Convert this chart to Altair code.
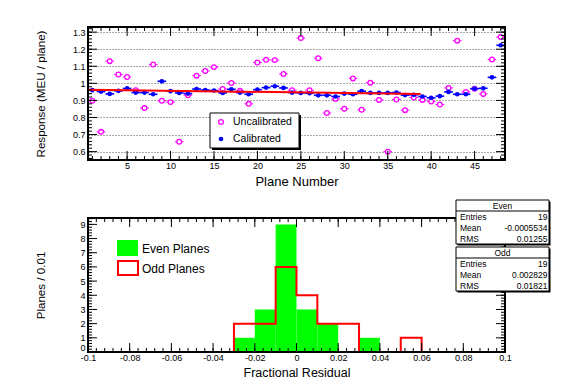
import altair as alt
import pandas as pd

# ---------------- data ----------------
planes = list(range(1, 49))
uncalibrated = [0.898, 0.716, 1.130, 1.052, 1.037, 0.960, 0.855, 1.110, 0.898, 0.890, 0.658, 0.930,
                1.045, 1.072, 1.095, 0.967, 1.002, 0.956, 0.880, 1.122, 1.138, 1.136, 1.055, 0.960,
                1.265, 0.960, 1.147, 0.826, 0.909, 0.851, 1.029, 0.845, 1.004, 0.903, 0.600, 0.905,
                0.843, 0.917, 0.903, 0.894, 0.876, 0.973, 1.250, 0.950, 0.968, 0.938, 1.140, 1.271]
calibrated = [0.960, 0.952, 0.938, 0.956, 0.970, 0.946, 0.946, 0.936, 1.012, 0.954, 0.944, 0.940,
              0.967, 0.961, 0.958, 0.944, 0.965, 0.946, 0.936, 0.963, 0.975, 0.983, 0.973, 0.946,
              0.944, 0.942, 0.930, 0.930, 0.923, 0.940, 0.936, 0.954, 0.944, 0.944, 0.944, 0.946,
              0.931, 0.933, 0.923, 0.915, 0.925, 0.950, 0.936, 0.936, 0.969, 0.971, 1.035, 1.223]
fit_planes = [0.5, 38.8]
fit_response = [0.962, 0.938]

bin_edges = [-0.10, -0.09, -0.08, -0.07, -0.06, -0.05, -0.04, -0.03, -0.02, -0.01, 0.00,
             0.01, 0.02, 0.03, 0.04, 0.05, 0.06, 0.07, 0.08, 0.09, 0.10]
even_counts = [0, 0, 0, 0, 0, 0, 0, 1, 3, 9, 3, 2, 0, 1, 0, 0, 0, 0, 0, 0]
odd_counts = [0, 0, 0, 0, 0, 0, 0, 2, 2, 6, 4, 2, 2, 0, 0, 1, 0, 0, 0, 0]

top_y_ticks = [0.6, 0.7, 0.8, 0.9, 1.0, 1.1, 1.2, 1.3]
top_x_ticks = [5, 10, 15, 20, 25, 30, 35, 40, 45]
bot_x_ticks = [-0.1, -0.08, -0.06, -0.04, -0.02, 0, 0.02, 0.04, 0.06, 0.08, 0.1]
bot_y_ticks = [0, 1, 2, 3, 4, 5, 6, 7, 8, 9]

top_y_minor = [round(0.56 + 0.02 * i, 2) for i in range(39)]
top_x_minor = planes
bot_x_minor = [round(-0.1 + 0.004 * i, 3) for i in range(51)]
bot_y_minor = [round(0.2 * i, 1) for i in range(48)]

even_stats = [("Entries", "19"), ("Mean", "-0.0005534"), ("RMS", "0.01255")]
odd_stats = [("Entries", "19"), ("Mean", "0.002829"), ("RMS", "0.01821")]

# ---------------- layout ----------------
W, H1, H2 = 417, 133, 134
FONT = "Liberation Sans"
ONE = pd.DataFrame({"k": [0]})
MAG, BLUE, RED, GREEN = "#ff00ff", "#0000ff", "#ff0000", "#00ff00"


def rect(x0, x1, y0, y1, **kw):
    return alt.Chart(ONE).mark_rect(**kw).encode(
        x=alt.value(x0), x2=alt.value(x1), y=alt.value(y0), y2=alt.value(y1))


def text(x, y, s, **kw):
    return alt.Chart(ONE).mark_text(baseline="middle", color="black", **kw).encode(
        x=alt.value(x), y=alt.value(y), text=alt.value(s))


def tick_layers(xs, ys, xax, yax, xmaj, xmin, ymaj, ymin, H, lmaj=9, lmin=5):
    out = []
    for vals, L in ((ymaj, lmaj), (ymin, lmin)):
        d = pd.DataFrame({"v": vals})
        y = alt.Y("v:Q", scale=ys, axis=yax)
        out.append(alt.Chart(d).mark_rule(color="black", strokeWidth=1).encode(
            y=y, x=alt.value(0), x2=alt.value(L)))
        out.append(alt.Chart(d).mark_rule(color="black", strokeWidth=1).encode(
            y=y, x=alt.value(W - L), x2=alt.value(W)))
    for vals, L in ((xmaj, lmaj), (xmin, lmin)):
        d = pd.DataFrame({"v": vals})
        x = alt.X("v:Q", scale=xs, axis=xax)
        out.append(alt.Chart(d).mark_rule(color="black", strokeWidth=1).encode(
            x=x, y=alt.value(H - L), y2=alt.value(H)))
        out.append(alt.Chart(d).mark_rule(color="black", strokeWidth=1).encode(
            x=x, y=alt.value(0), y2=alt.value(L)))
    return out


# ---------------- top panel ----------------
xs_top = alt.Scale(domain=[0.5, 48.5], nice=False, zero=False)
ys_top = alt.Scale(domain=[0.551, 1.33], nice=False, zero=False)

top_yaxis = alt.Axis(values=top_y_ticks, labelExpr="toString(round(datum.value*10)/10)",
                     grid=True, gridDash=[1, 2], gridColor="#555555", gridWidth=1,
                     ticks=False, domain=False, labelFontSize=9, labelPadding=3,
                     labelFlush=False, labelOverlap=False,
                     title="Response (MEU / plane)", titleFontSize=11.6, titleFontWeight="normal",
                     titleX=-47, titleY=H1 / 2, titleBaseline="middle", titleAlign="center")
top_xaxis = alt.Axis(values=top_x_ticks, grid=False, ticks=False, domain=False,
                     labelFontSize=9, labelPadding=1, labelFlush=False, labelOverlap=False,
                     title="Plane Number", titleFontSize=13, titleFontWeight="normal",
                     titleY=21, titleBaseline="middle")

df_pts = pd.DataFrame({"plane": planes, "uncal": uncalibrated, "cal": calibrated})
pts = alt.Chart(df_pts).transform_calculate(lo="datum.plane - 0.5", hi="datum.plane + 0.5")


def TX(f):
    return alt.X(f, scale=xs_top, axis=top_xaxis)


def TY(f):
    return alt.Y(f, scale=ys_top, axis=top_yaxis)


unc_bar = pts.mark_rule(color=MAG, strokeWidth=1).encode(x=TX("lo:Q"), x2="hi:Q", y=TY("uncal:Q"))
unc_pt = pts.mark_circle(size=22, fill="white", stroke=MAG, strokeWidth=1.3, opacity=1).encode(
    x=TX("plane:Q"), y=TY("uncal:Q"))
cal_bar = pts.mark_rule(color=BLUE, strokeWidth=1.6).encode(x=TX("lo:Q"), x2="hi:Q", y=TY("cal:Q"))
cal_pt = pts.mark_circle(size=22, color=BLUE, opacity=1).encode(x=TX("plane:Q"), y=TY("cal:Q"))
fit = alt.Chart(pd.DataFrame({"p": fit_planes, "r": fit_response})).mark_line(
    color=RED, strokeWidth=2).encode(x=TX("p:Q"), y=TY("r:Q"))

top_layers = [unc_bar, unc_pt, cal_bar, cal_pt, fit]
top_layers += tick_layers(xs_top, ys_top, top_xaxis, top_yaxis, top_x_ticks, top_x_minor,
                          top_y_ticks, top_y_minor, H1, lmaj=9, lmin=4)
top_layers.append(rect(0, W, 0, H1, fill="white", fillOpacity=0, stroke="black", strokeWidth=2))
# legend
top_layers += [
    rect(124, 213, 88, 123, fill="black"),
    rect(122, 211, 86, 121, fill="white", stroke="black", strokeWidth=1),
    alt.Chart(ONE).mark_circle(size=22, fill="white", stroke=MAG, strokeWidth=1.3, opacity=1).encode(
        x=alt.value(133), y=alt.value(95)),
    alt.Chart(ONE).mark_circle(size=22, color=BLUE, opacity=1).encode(
        x=alt.value(133), y=alt.value(112)),
    text(145, 95, "Uncalibrated", align="left", fontSize=10.5),
    text(145, 112, "Calibrated", align="left", fontSize=10.5),
]
top = alt.layer(*top_layers).properties(width=W, height=H1)

# ---------------- bottom panel ----------------
xs_bot = alt.Scale(domain=[-0.1, 0.1], nice=False, zero=False)
ys_bot = alt.Scale(domain=[0, 9.45], nice=False, zero=False)

bot_yaxis = alt.Axis(values=bot_y_ticks, grid=False, ticks=False, domain=False,
                     labelFontSize=9, labelPadding=3, labelFlush=False, labelOverlap=False,
                     labelBaseline={"condition": {"test": "datum.value == 0", "value": "bottom"},
                                    "value": "middle"},
                     title="Planes / 0.01", titleFontSize=11.6, titleFontWeight="normal",
                     titleX=-47, titleY=H2 / 2, titleBaseline="middle", titleAlign="center")
bot_xaxis = alt.Axis(values=bot_x_ticks,
                     labelExpr="datum.value == 0 ? '0' : toString(round(datum.value*100)/100)",
                     grid=False, ticks=False, domain=False, labelFontSize=9, labelPadding=1,
                     labelFlush=False, labelOverlap=False,
                     title="Fractional Residual", titleFontSize=12.5, titleFontWeight="normal",
                     titleY=20, titleBaseline="middle")


def BX(f):
    return alt.X(f, scale=xs_bot, axis=bot_xaxis)


def BY(f):
    return alt.Y(f, scale=ys_bot, axis=bot_yaxis)


df_even = pd.DataFrame({"lo": bin_edges[:-1], "hi": bin_edges[1:], "n": even_counts})
df_even = df_even[df_even["n"] > 0]
even_bars = alt.Chart(df_even).mark_rect(color=GREEN, opacity=1).encode(
    x=BX("lo:Q"), x2="hi:Q", y=BY("n:Q"), y2=alt.datum(0))
df_odd = pd.DataFrame({"e": bin_edges, "n": odd_counts + [odd_counts[-1]]})
odd_line = alt.Chart(df_odd).mark_line(color=RED, strokeWidth=2, interpolate="step-after").encode(
    x=BX("e:Q"), y=BY("n:Q"))

bot_layers = [even_bars, odd_line]
bot_layers += tick_layers(xs_bot, ys_bot, bot_xaxis, bot_yaxis, bot_x_ticks, bot_x_minor,
                          bot_y_ticks, bot_y_minor, H2, lmaj=9, lmin=4)
bot_layers.append(rect(0, W, 0, H2, fill="white", fillOpacity=0, stroke="black", strokeWidth=2))
# legend
bot_layers += [
    rect(29, 50, 22, 38, fill=GREEN),
    rect(30, 50, 43, 57, fill="white", stroke=RED, strokeWidth=2),
    text(54, 31, "Even Planes", align="left", fontSize=12),
    text(54, 51, "Odd Planes", align="left", fontSize=12),
]


def stats_box(name, rows, x0, x1, y0, th=11, rh=11):
    y1 = y0 + th + rh * len(rows)
    lay = [rect(x0 + 1.5, x1 + 1.5, y0 + 1.5, y1 + 1.5, fill="black"),
           rect(x0, x1, y0, y1, fill="white", stroke="black", strokeWidth=1),
           alt.Chart(ONE).mark_rule(color="black", strokeWidth=1).encode(
               x=alt.value(x0), x2=alt.value(x1), y=alt.value(y0 + th)),
           text((x0 + x1) / 2, y0 + th / 2, name, align="center", fontSize=8.5)]
    for i, (lab, val) in enumerate(rows):
        yc = y0 + th + rh * i + rh / 2
        lay.append(text(x0 + 4, yc, lab, align="left", fontSize=8.5))
        lay.append(text(x1 - 1.5, yc, val, align="right", fontSize=8.5))
    return lay


bot_layers += stats_box("Even", even_stats, 368, 461, -18)
bot_layers += stats_box("Odd", odd_stats, 368, 461, 29)
bottom = alt.layer(*bot_layers).properties(width=W, height=H2)

chart = alt.vconcat(top, bottom, spacing=58, bounds="flush").properties(
    padding={"left": 26, "top": 18, "right": 5, "bottom": 5}
).configure(font=FONT).configure_view(stroke=None).configure_axis(
    labelColor="black", titleColor="black")

chart.save("out.html", embed_options={"renderer": "svg", "actions": False})
